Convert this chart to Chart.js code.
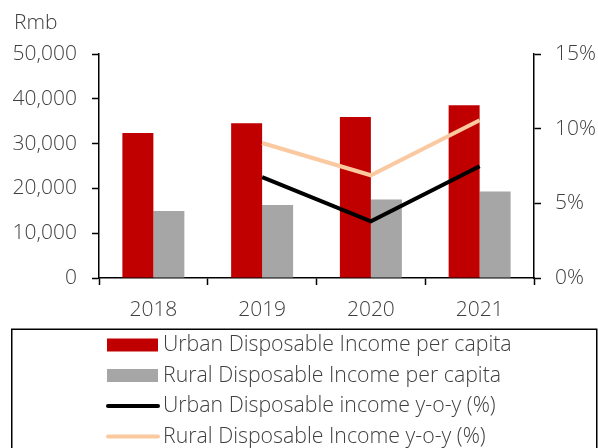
<!DOCTYPE html>
<html>
<head>
<meta charset="utf-8">
<script src="https://cdn.jsdelivr.net/npm/chart.js@4/dist/chart.umd.min.js"></script>
<style>
  html, body { margin: 0; padding: 0; background: #fff; }
  #wrap { width: 598px; height: 448px; position: relative; }
</style>
</head>
<body>
<div id="wrap"><canvas id="c" width="598" height="448"></canvas></div>
<script>
// Disposable income per capita (Rmb) and year-on-year growth (%)
const years = ['2018', '2019', '2020', '2021'];
const urbanIncome = [32370, 34530, 35940, 38550];
const ruralIncome = [14950, 16290, 17500, 19290];
const urbanGrowth = [null, 6.76, 3.80, 7.48];
const ruralGrowth = [null, 9.04, 6.88, 10.56];

const leftTicks = [0, 10000, 20000, 30000, 40000, 50000];
const rightTicks = [0, 5, 10, 15];

const seriesNames = [
  'Urban Disposable Income per capita',
  'Rural Disposable Income per capita',
  'Urban Disposable income y-o-y (%)',
  'Rural Disposable Income y-o-y (%)'
];
const unitLabel = 'Rmb';

const FONT = '"Open Sans", "Noto Sans", sans-serif';
const WEIGHT = '300';
const TEXT = '#404040';

// Unit caption above the left axis
const unitPlugin = {
  id: 'unitCaption',
  afterDraw(chart) {
    const ctx = chart.ctx;
    ctx.save();
    ctx.font = WEIGHT + ' 21px ' + FONT;
    ctx.fillStyle = TEXT;
    ctx.textBaseline = 'middle';
    ctx.textAlign = 'left';
    ctx.fillText(unitLabel, 14, 23);
    ctx.restore();
  }
};

// Boxed legend under the plot, one series per row
const boxLegend = {
  id: 'boxLegend',
  afterDraw(chart) {
    const ctx = chart.ctx;
    ctx.save();
    ctx.strokeStyle = '#000';
    ctx.lineWidth = 1.5;
    ctx.strokeRect(11.75, 329.25, 585, 140);
    ctx.font = WEIGHT + ' 21.3px ' + FONT;
    ctx.fillStyle = TEXT;
    ctx.textBaseline = 'middle';
    ctx.textAlign = 'left';
    const rowY = [345, 375.5, 406, 436.5];
    chart.data.datasets.forEach((ds, i) => {
      const y = rowY[i];
      if (ds.type === 'bar') {
        ctx.fillStyle = ds.backgroundColor;
        ctx.fillRect(107, y - 6.5, 51, 13);
      } else {
        ctx.strokeStyle = ds.borderColor;
        ctx.lineWidth = 4;
        ctx.lineCap = 'round';
        ctx.beginPath();
        ctx.moveTo(108, y);
        ctx.lineTo(158, y);
        ctx.stroke();
      }
      ctx.fillStyle = TEXT;
      ctx.fillText(ds.label, 163, y);
    });
    ctx.restore();
  }
};

const axisGrid = {
  drawOnChartArea: false,
  drawTicks: true,
  tickLength: 7,
  tickColor: '#000',
  tickWidth: 1.5
};
const axisBorder = { display: true, color: '#000', width: 1.5 };
const tickFont = { family: FONT, size: 21, weight: WEIGHT };

new Chart(document.getElementById('c'), {
  data: {
    labels: years,
    datasets: [
      { type: 'bar', label: seriesNames[0], data: urbanIncome, yAxisID: 'y',
        backgroundColor: '#C00000', order: 2,
        categoryPercentage: 0.57, barPercentage: 1.0 },
      { type: 'bar', label: seriesNames[1], data: ruralIncome, yAxisID: 'y',
        backgroundColor: '#A6A6A6', order: 2,
        categoryPercentage: 0.57, barPercentage: 1.0 },
      { type: 'line', label: seriesNames[2], data: urbanGrowth, yAxisID: 'y1',
        borderColor: '#000000', borderWidth: 4, pointRadius: 0, tension: 0, order: 0 },
      { type: 'line', label: seriesNames[3], data: ruralGrowth, yAxisID: 'y1',
        borderColor: '#FAC9A0', borderWidth: 4, pointRadius: 0, tension: 0, order: 1 }
    ]
  },
  options: {
    responsive: false,
    animation: false,
    layout: { padding: { top: 54, bottom: 130, left: 0, right: 0 } },
    plugins: {
      legend: { display: false },
      tooltip: { enabled: false },
      title: { display: false }
    },
    scales: {
      x: {
        offset: true,
        grid: Object.assign({ offset: true }, axisGrid),
        border: axisBorder,
        ticks: { color: TEXT, font: tickFont, padding: 12 },
        afterFit(s) { s.height = 40; }
      },
      y: {
        position: 'left',
        min: 0, max: 50000,
        afterBuildTicks(s) { s.ticks = leftTicks.map(v => ({ value: v })); },
        grid: axisGrid,
        border: axisBorder,
        ticks: {
          color: TEXT, font: tickFont, padding: 15,
          callback: v => v.toLocaleString('en-US')
        },
        afterFit(s) { s.width = 99; }
      },
      y1: {
        position: 'right',
        min: 0, max: 15,
        afterBuildTicks(s) { s.ticks = rightTicks.map(v => ({ value: v })); },
        grid: axisGrid,
        border: axisBorder,
        ticks: {
          color: TEXT, font: tickFont, padding: 14,
          callback: v => v + '%'
        },
        afterFit(s) { s.width = 64; }
      }
    }
  },
  plugins: [unitPlugin, boxLegend]
});
</script>
</body>
</html>
